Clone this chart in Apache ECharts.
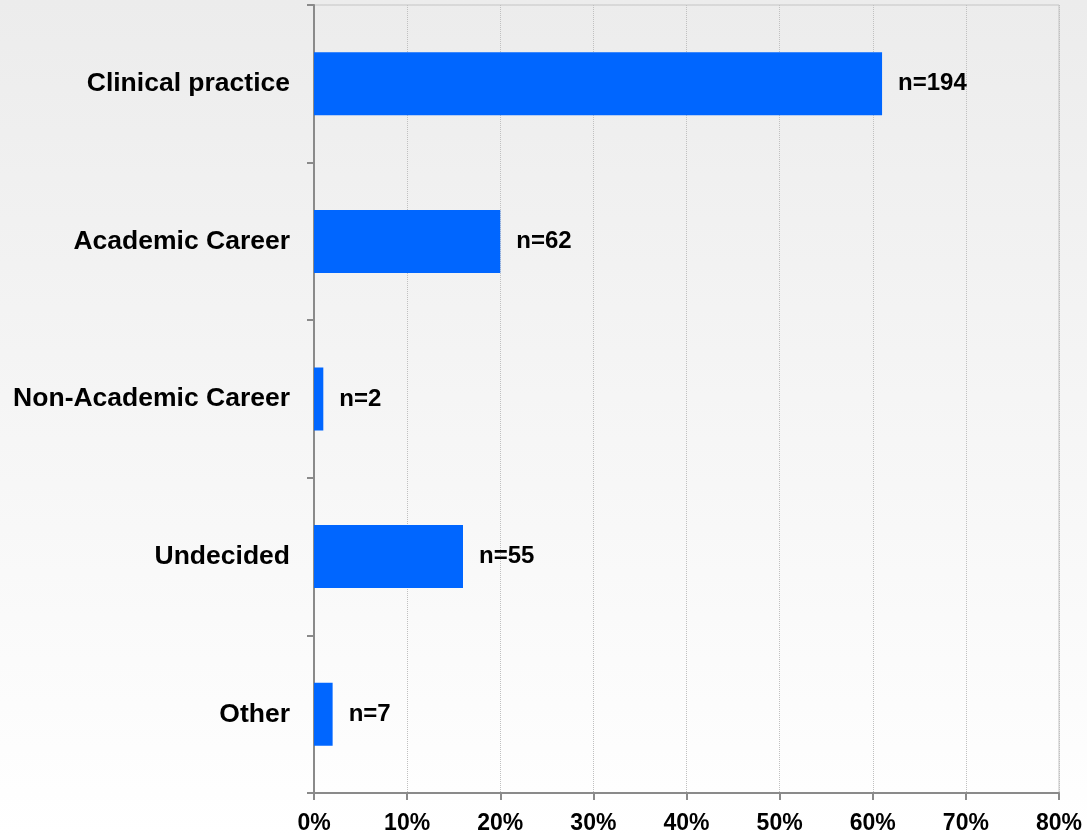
<!DOCTYPE html>
<html>
<head>
<meta charset="utf-8">
<script src="https://cdn.jsdelivr.net/npm/echarts@6/dist/echarts.min.js"></script>
<style>
html,body{margin:0;padding:0;}
#chart{width:1087px;height:836px;}
</style>
</head>
<body>
<div id="chart"></div>
<script>
const categories = ['Clinical practice', 'Academic Career', 'Non-Academic Career', 'Undecided', 'Other'];
const percentValues = [61, 20, 1, 16, 2];
const countLabels = ['n=194', 'n=62', 'n=2', 'n=55', 'n=7'];
const xTicks = { min: 0, max: 80, interval: 10 };

const chart = echarts.init(document.getElementById('chart'), null, { renderer: 'canvas' });
const font = '"Liberation Sans", Arial, sans-serif';
chart.setOption({
  animation: false,
  backgroundColor: {
    type: 'linear', x: 0, y: 0, x2: 0, y2: 1,
    colorStops: [{ offset: 0, color: '#ececec' }, { offset: 1, color: '#ffffff' }]
  },
  grid: {
    left: 314, right: 28, top: 5, bottom: 43,
    show: true, borderColor: '#c4c4c4', borderWidth: 1, backgroundColor: 'transparent'
  },
  xAxis: {
    type: 'value', min: xTicks.min, max: xTicks.max, interval: xTicks.interval,
    axisLine: { show: true, lineStyle: { color: '#8a8a8a', width: 2 } },
    axisTick: { show: true, length: 7, lineStyle: { color: '#8a8a8a', width: 2 } },
    splitLine: { show: true, lineStyle: { color: '#c0c0c0', type: 'dotted', width: 1 } },
    axisLabel: {
      formatter: '{value}%', color: '#000', fontFamily: font, fontWeight: 'bold',
      fontSize: 23, margin: 19
    }
  },
  yAxis: {
    type: 'category', data: categories, inverse: true,
    axisLine: { show: true, lineStyle: { color: '#8a8a8a', width: 2 } },
    axisTick: { show: true, length: 7, lineStyle: { color: '#8a8a8a', width: 2 } },
    splitLine: { show: false },
    axisLabel: {
      color: '#000', fontFamily: font, fontWeight: 'bold', fontSize: 26.5, margin: 24,
      padding: [3, 0, 0, 0]
    }
  },
  series: [{
    type: 'bar',
    data: percentValues,
    barWidth: 63,
    itemStyle: { color: '#0066ff' },
    label: {
      show: true, position: 'right', distance: 16,
      color: '#000', fontFamily: font, fontWeight: 'bold', fontSize: 24,
      padding: [4, 0, 0, 0],
      formatter: p => countLabels[p.dataIndex]
    }
  }]
});
</script>
</body>
</html>
